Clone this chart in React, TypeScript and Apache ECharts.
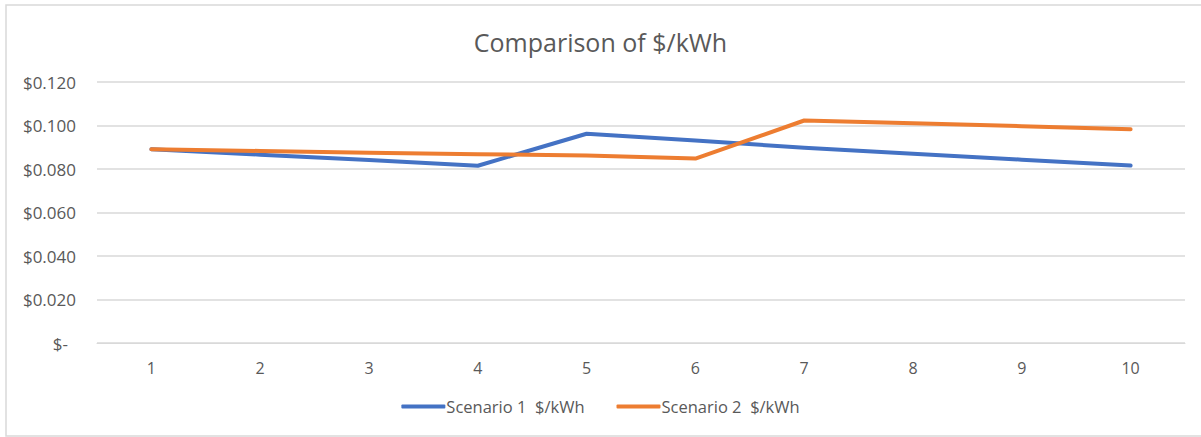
import React, { useEffect, useRef } from "react";
import * as echarts from "echarts";

const categories = ["1", "2", "3", "4", "5", "6", "7", "8", "9", "10"];
const scenario1 = [0.0891, 0.0866, 0.0841, 0.0815, 0.0962, 0.0931, 0.0898, 0.0870, 0.0843, 0.0816];
const scenario2 = [0.0891, 0.0883, 0.0875, 0.0868, 0.0862, 0.0848, 0.1023, 0.1010, 0.0997, 0.0983];
const seriesNames = ["Scenario 1  $/kWh", "Scenario 2  $/kWh"];
const titleText = "Comparison of $/kWh";

const FONT = "'Open Sans', 'Noto Sans', sans-serif";
const GREY = "#595959";

export default function App() {
  const ref = useRef<HTMLDivElement>(null);
  useEffect(() => {
    document.body.style.margin = "0";
    const chart = echarts.init(ref.current!, null, { renderer: "svg" });
    chart.setOption({
      animation: false,
      backgroundColor: "#ffffff",
      textStyle: { fontFamily: FONT },
      title: {
        text: titleText,
        left: "center",
        top: 24,
        textStyle: { fontFamily: FONT, fontSize: 25, fontWeight: "normal", color: GREY },
      },
      graphic: [
        {
          type: "rect",
          shape: { x: 6, y: 5, width: 1200, height: 431 },
          style: { fill: "none", stroke: "#d9d9d9", lineWidth: 1.5 },
          silent: true,
        },
      ],
      grid: { left: 97, right: 16, top: 82, bottom: 94, containLabel: false },
      xAxis: {
        type: "category",
        data: categories,
        boundaryGap: true,
        axisLine: { show: true, lineStyle: { color: "#d9d9d9", width: 1 } },
        axisTick: { show: false },
        axisLabel: { color: GREY, fontSize: 16, fontFamily: FONT, margin: 17 },
      },
      yAxis: {
        type: "value",
        min: 0,
        max: 0.12,
        interval: 0.02,
        axisLine: { show: false },
        axisTick: { show: false },
        splitLine: { lineStyle: { color: "#d9d9d9", width: 1.5 } },
        axisLabel: {
          color: GREY,
          fontSize: 17,
          fontFamily: FONT,
          margin: 21,
          formatter: (v: number) => (v === 0 ? "{z|$-}" : "$" + v.toFixed(3)),
          rich: { z: { color: GREY, fontSize: 17, fontFamily: FONT, padding: [0, 8, 0, 0] } },
        },
      },
      legend: {
        bottom: 17,
        left: "center",
        itemWidth: 44,
        itemHeight: 4,
        itemGap: 32,
        icon: "roundRect",
        textStyle: { color: GREY, fontSize: 16.5, fontFamily: FONT, padding: [0, 0, 0, -4] },
        data: seriesNames,
      },
      series: [
        {
          name: seriesNames[0],
          type: "line",
          data: scenario1,
          symbol: "none",
          lineStyle: { color: "#4472C4", width: 4, cap: "round", join: "round" },
          itemStyle: { color: "#4472C4" },
        },
        {
          name: seriesNames[1],
          type: "line",
          data: scenario2,
          symbol: "none",
          lineStyle: { color: "#ED7D31", width: 4, cap: "round", join: "round" },
          itemStyle: { color: "#ED7D31" },
        },
      ],
    });
    return () => chart.dispose();
  }, []);
  return <div ref={ref} style={{ width: 1201, height: 437 }} />;
}
